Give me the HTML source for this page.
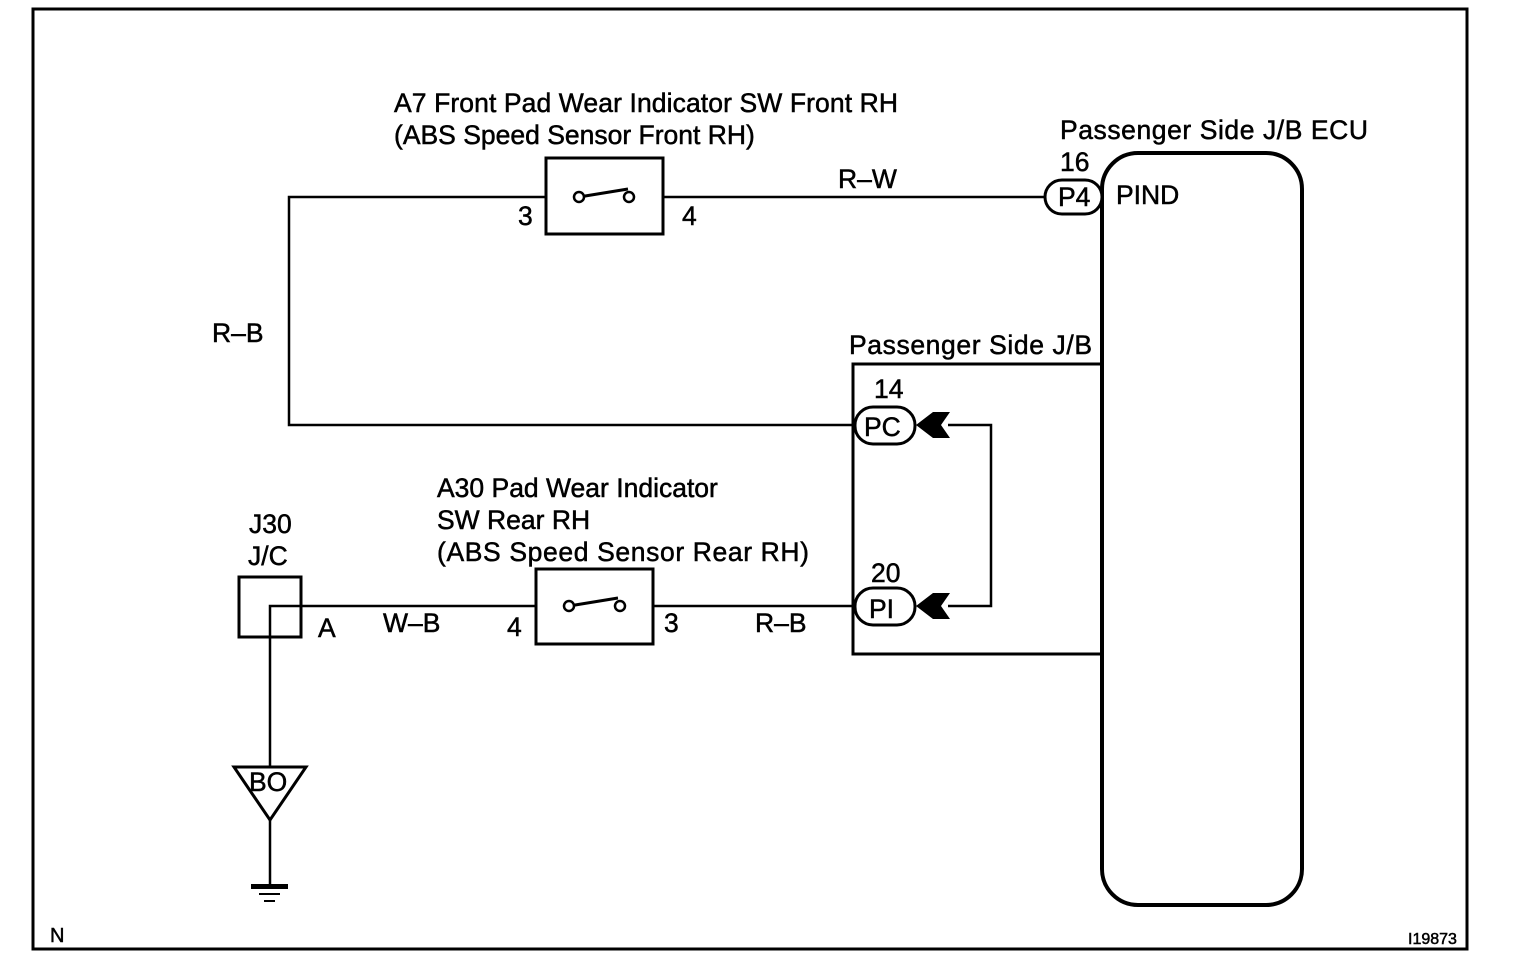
<!DOCTYPE html>
<html><head><meta charset="utf-8"><style>
html,body{margin:0;padding:0;background:#fff;}
svg{display:block;}
text{font-family:"Liberation Sans",Arial,sans-serif;fill:#000;stroke:#000;stroke-width:0.5;}
</style></head><body>
<svg width="1520" height="964" viewBox="0 0 1520 964" xmlns="http://www.w3.org/2000/svg">
<rect x="33" y="9" width="1434" height="940" fill="none" stroke="#000" stroke-width="3"/>
<g fill="none" stroke="#000" stroke-width="2.5">
<polyline points="1045,197 663,197"/>
<polyline points="546,197 289,197 289,425 855,425"/>
<polyline points="270,767 270,606 536,606"/>
<line x1="653" y1="606" x2="855" y2="606"/>
<line x1="270" y1="820" x2="270" y2="886"/>
<polyline points="948,425 991,425 991,606 948,606"/>
</g>
<rect x="546" y="158" width="117" height="76" fill="none" stroke="#000" stroke-width="3"/>
<line x1="579" y1="197" x2="628" y2="189" stroke="#000" stroke-width="3"/>
<circle cx="579" cy="197" r="5" fill="#fff" stroke="#000" stroke-width="2.5"/>
<circle cx="629" cy="197" r="5" fill="#fff" stroke="#000" stroke-width="2.5"/>
<rect x="536" y="569" width="117" height="75" fill="none" stroke="#000" stroke-width="3"/>
<line x1="569" y1="606" x2="618" y2="598" stroke="#000" stroke-width="3"/>
<circle cx="569" cy="606" r="5" fill="#fff" stroke="#000" stroke-width="2.5"/>
<circle cx="620" cy="606" r="5" fill="#fff" stroke="#000" stroke-width="2.5"/>
<rect x="239" y="577" width="62" height="60" fill="none" stroke="#000" stroke-width="3"/>
<polygon points="234,767 306,767 270,820" fill="none" stroke="#000" stroke-width="3"/>
<rect x="251" y="884" width="37" height="5" fill="#000"/>
<rect x="259" y="893" width="21" height="2" fill="#000"/>
<rect x="264" y="900" width="11" height="2" fill="#000"/>
<rect x="1102" y="153" width="200" height="752" rx="36" fill="none" stroke="#000" stroke-width="4"/>
<polyline points="1102,364 853,364 853,654 1102,654" fill="none" stroke="#000" stroke-width="3"/>
<rect x="1045" y="180" width="57" height="34" rx="17" fill="#fff" stroke="#000" stroke-width="3"/>
<rect x="855" y="407" width="60" height="37" rx="18" fill="#fff" stroke="#000" stroke-width="3"/>
<rect x="855" y="588" width="60" height="37" rx="18" fill="#fff" stroke="#000" stroke-width="3"/>
<polygon points="916,425 933,412 950,412 941,425 950,438 933,438" fill="#000"/>
<polygon points="916,606 933,593 950,593 941,606 950,619 933,619" fill="#000"/>
<g font-size="26.5">
<text x="394" y="112" textLength="504">A7 Front Pad Wear Indicator SW Front RH</text>
<text x="394" y="144">(ABS Speed Sensor Front RH)</text>
<text x="1060" y="139" textLength="308">Passenger Side J/B ECU</text>
<text x="1060" y="171">16</text>
<text x="1058" y="206">P4</text>
<text x="1116" y="204">PIND</text>
<text x="838" y="188">R–W</text>
<text x="518" y="225">3</text>
<text x="682" y="225">4</text>
<text x="212" y="342">R–B</text>
<text x="849" y="354" textLength="243">Passenger Side J/B</text>
<text x="874" y="398">14</text>
<text x="864" y="436">PC</text>
<text x="871" y="582">20</text>
<text x="869" y="618">PI</text>
<text x="437" y="497">A30 Pad Wear Indicator</text>
<text x="437" y="529">SW Rear RH</text>
<text x="437" y="561" textLength="372">(ABS Speed Sensor Rear RH)</text>
<text x="249" y="533">J30</text>
<text x="248" y="565">J/C</text>
<text x="318" y="637">A</text>
<text x="383" y="632">W–B</text>
<text x="507" y="636">4</text>
<text x="664" y="632">3</text>
<text x="755" y="632">R–B</text>
<text x="249" y="791">BO</text>
</g>
<text x="50" y="942" font-size="20">N</text>
<text x="1408" y="944" font-size="16">I19873</text>
</svg>
</body></html>
